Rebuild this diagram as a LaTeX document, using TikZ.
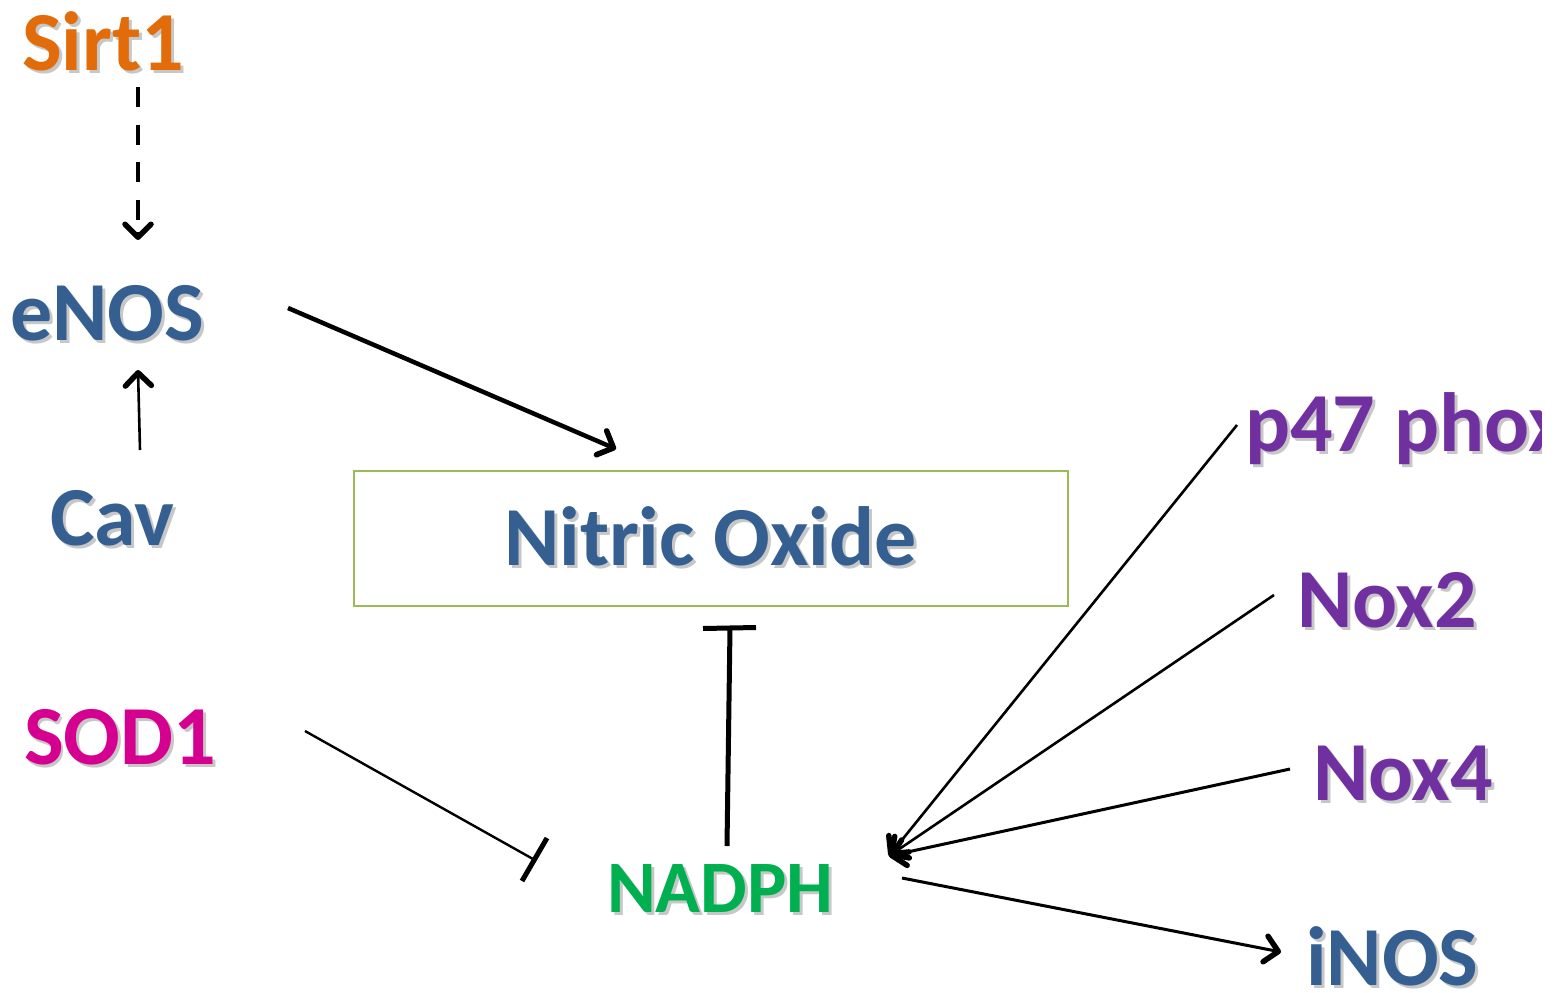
\documentclass[tikz,border=0pt]{standalone}
\usepackage{fontspec}
\setmainfont{Carlito}
\usetikzlibrary{arrows.meta,calc}
\definecolor{csirt}{HTML}{E36C0A}
\definecolor{cblue}{HTML}{365F91}
\definecolor{csod}{HTML}{D5008F}
\definecolor{cgreen}{HTML}{00B050}
\definecolor{cpurple}{HTML}{7030A0}
\definecolor{cbox}{HTML}{9BBB59}
\tikzset{
  lbl/.style={anchor=base west, inner sep=0pt, outer sep=0pt, text depth=0pt, font=\fontsize{84}{90}\selectfont\bfseries},
  act/.style={draw=black, line width=#1, -{Straight Barb[length=13pt, width=26pt, line width=5.5pt, round]}},
  inh/.style={draw=black, line width=#1},
  bar/.style={draw=black, line width=5pt},
}
\newcommand\mylbl[5][]{%
  \node[lbl, #1, text=black, opacity=0.22] at ($(#3)+(3,3)$) {#5};%
  \node[lbl, #1, text=#4] (#2) at (#3) {#5};}
\begin{document}
\begin{tikzpicture}[x=1pt, y=-1pt]
\useasboundingbox (0,0) rectangle (1559,993);
\begin{scope}
\clip (0,0) rectangle (1541,993);
% labels
\mylbl{sirt}{22,70}{csirt}{Sirt1}
\mylbl{enos}{10,340}{cblue}{eNOS}
\mylbl{cav}{50,545}{cblue}{Cav}
\mylbl{sod}{24,764}{csod}{SOD1}
\mylbl[font=\fontsize{74}{80}\selectfont\bfseries]{nadph}{607,912}{cgreen}{NADPH}
\mylbl{p47}{1245,451}{cpurple}{p47 phox}
\mylbl{nox2}{1297,627}{cpurple}{Nox2}
\mylbl{nox4}{1313,800}{cpurple}{Nox4}
\mylbl{inos}{1306,985}{cblue}{iNOS}
% box
\node[draw=cbox, line width=1.8pt, minimum width=714pt, minimum height=135pt, inner sep=0pt] (boxno) at (711,538.5) {};
\mylbl{no}{504,565}{cblue}{Nitric Oxide}
% connector end points
\coordinate (sirtS) at (138,87);
\coordinate (enosT) at (138,240);
\coordinate (enosTa) at (138,232);
\coordinate (cavS) at (140,450);
\coordinate (enosB) at (138,370);
\coordinate (enosR) at (288,308);
\coordinate (noT) at (616,449);
\coordinate (nadT) at (727,846);
\coordinate (noB) at (730,628);
\coordinate (sodR) at (305,731);
\coordinate (nadL) at (533,859);
\coordinate (p47S) at (1237,425);
\coordinate (nox2S) at (1274,595);
\coordinate (nox4S) at (1290,769);
\coordinate (nadR) at (889,856);
\coordinate (nadRo) at (902,878);
\coordinate (inosL) at (1281,952);
% connectors
\draw[inh=4.5pt, dash pattern=on 20pt off 17.5pt] (sirtS) -- (enosTa);
\draw[act=4.5pt] (enosTa) -- (enosT);
\draw[act=2.6pt] (cavS) -- (enosB);
\draw[act=4.5pt] (enosR) -- (noT);
\draw[inh=5pt] (nadT) -- (noB);
\draw[bar] ($(noB)+(-27,0.5)$) -- ($(noB)+(26,-0.5)$);
\draw[inh=2.4pt] (sodR) -- (nadL);
\draw[bar] ($(nadL)+(-11,22)$) -- ($(nadL)+(14,-21)$);
\draw[act=2.6pt] (p47S) -- (nadR);
\draw[act=2.6pt] (nox2S) -- (nadR);
\draw[act=3pt] (nox4S) -- (nadR);
\draw[act=3pt] (nadRo) -- (inosL);
\end{scope}
\end{tikzpicture}
\end{document}
